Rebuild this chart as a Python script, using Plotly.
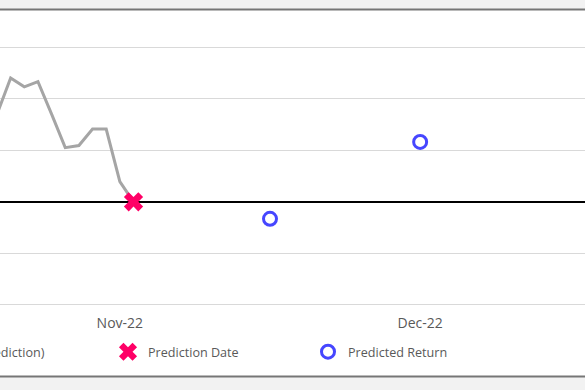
import plotly.graph_objects as go

# Trading-day offsets relative to the prediction date
hist_x = [-10, -9, -8, -7, -6, -5, -4, -3, -2, -1, 0]
hist_y = [1.70, 2.40, 2.23, 2.33, 1.70, 1.05, 1.09, 1.41, 1.41, 0.39, 0.0]

pred_date_x = [0]
pred_date_y = [0.0]

pred_ret_x = [10, 21]
pred_ret_y = [-0.33, 1.16]

tick_vals = [-1, 21]
tick_text = ["Nov-22", "Dec-22"]

W, H = 585, 390
top_px, bot_px = 45, 307
ph = bot_px - top_px


def py(p):
    return (bot_px - p) / ph


font = dict(family="Open Sans, Noto Sans, sans-serif", color="#595959", size=12.6)

fig = go.Figure()
fig.add_trace(go.Scatter(
    x=hist_x, y=hist_y, mode="lines", name="Actual Return (Before Prediction)",
    line=dict(color="#a5a5a5", width=3), legend="legend2"))
fig.add_trace(go.Scatter(
    x=pred_date_x, y=pred_date_y, mode="markers", name="Prediction Date",
    marker=dict(symbol="x", size=17, color="#ff0066", line=dict(width=0))))
fig.add_trace(go.Scatter(
    x=pred_ret_x, y=pred_ret_y, mode="markers", name="Predicted Return",
    marker=dict(symbol="circle-open", size=13, color="#4646ff",
                line=dict(width=3, color="#4646ff"))))

x0 = 133.5
s = 13.65
fig.update_xaxes(range=[-x0 / s, (W - x0) / s], showgrid=False, showline=False,
                 zeroline=False, ticks="", tickvals=tick_vals, ticktext=tick_text,
                 tickfont=dict(family=font["family"], color="#595959", size=14),
                 ticklabelstandoff=6)
fig.update_yaxes(range=[-2.04, 3.04], tickvals=[-2, -1, 0, 1, 2, 3],
                 showgrid=True, gridcolor="#d9d9d9",
                 gridwidth=1, zeroline=True, zerolinecolor="#000000",
                 zerolinewidth=1.5, showticklabels=False, ticks="", showline=False)

shapes = [
    dict(type="rect", xref="paper", yref="paper", x0=0, x1=1, y0=py(376), y1=py(9.5),
         fillcolor="white", line=dict(width=0), layer="below"),
    dict(type="line", xref="paper", yref="paper", x0=0, x1=1, y0=py(9.5), y1=py(9.5),
         line=dict(color="#767676", width=2)),
    dict(type="line", xref="paper", yref="paper", x0=0, x1=1, y0=py(376.5), y1=py(376.5),
         line=dict(color="#767676", width=2)),
]

fig.update_layout(
    width=W, height=H,
    margin=dict(l=0, r=0, t=top_px, b=H - bot_px, pad=0, autoexpand=False),
    paper_bgcolor="#f2f2f2", plot_bgcolor="rgba(0,0,0,0)",
    font=font,
    shapes=shapes,
    showlegend=True,
    legend=dict(orientation="h", xanchor="left", yanchor="middle",
                x=108 / W, y=py(352), font=font, bgcolor="rgba(0,0,0,0)",
                entrywidth=155, itemwidth=30, traceorder="normal"),
    legend2=dict(orientation="h", xanchor="right", yanchor="middle",
                 x=50 / W, y=py(352), font=font, bgcolor="rgba(0,0,0,0)",
                 itemwidth=30),
)

fig.write_html("out.html", config={"displayModeBar": False},
               post_script="document.body.style.margin='0';")
